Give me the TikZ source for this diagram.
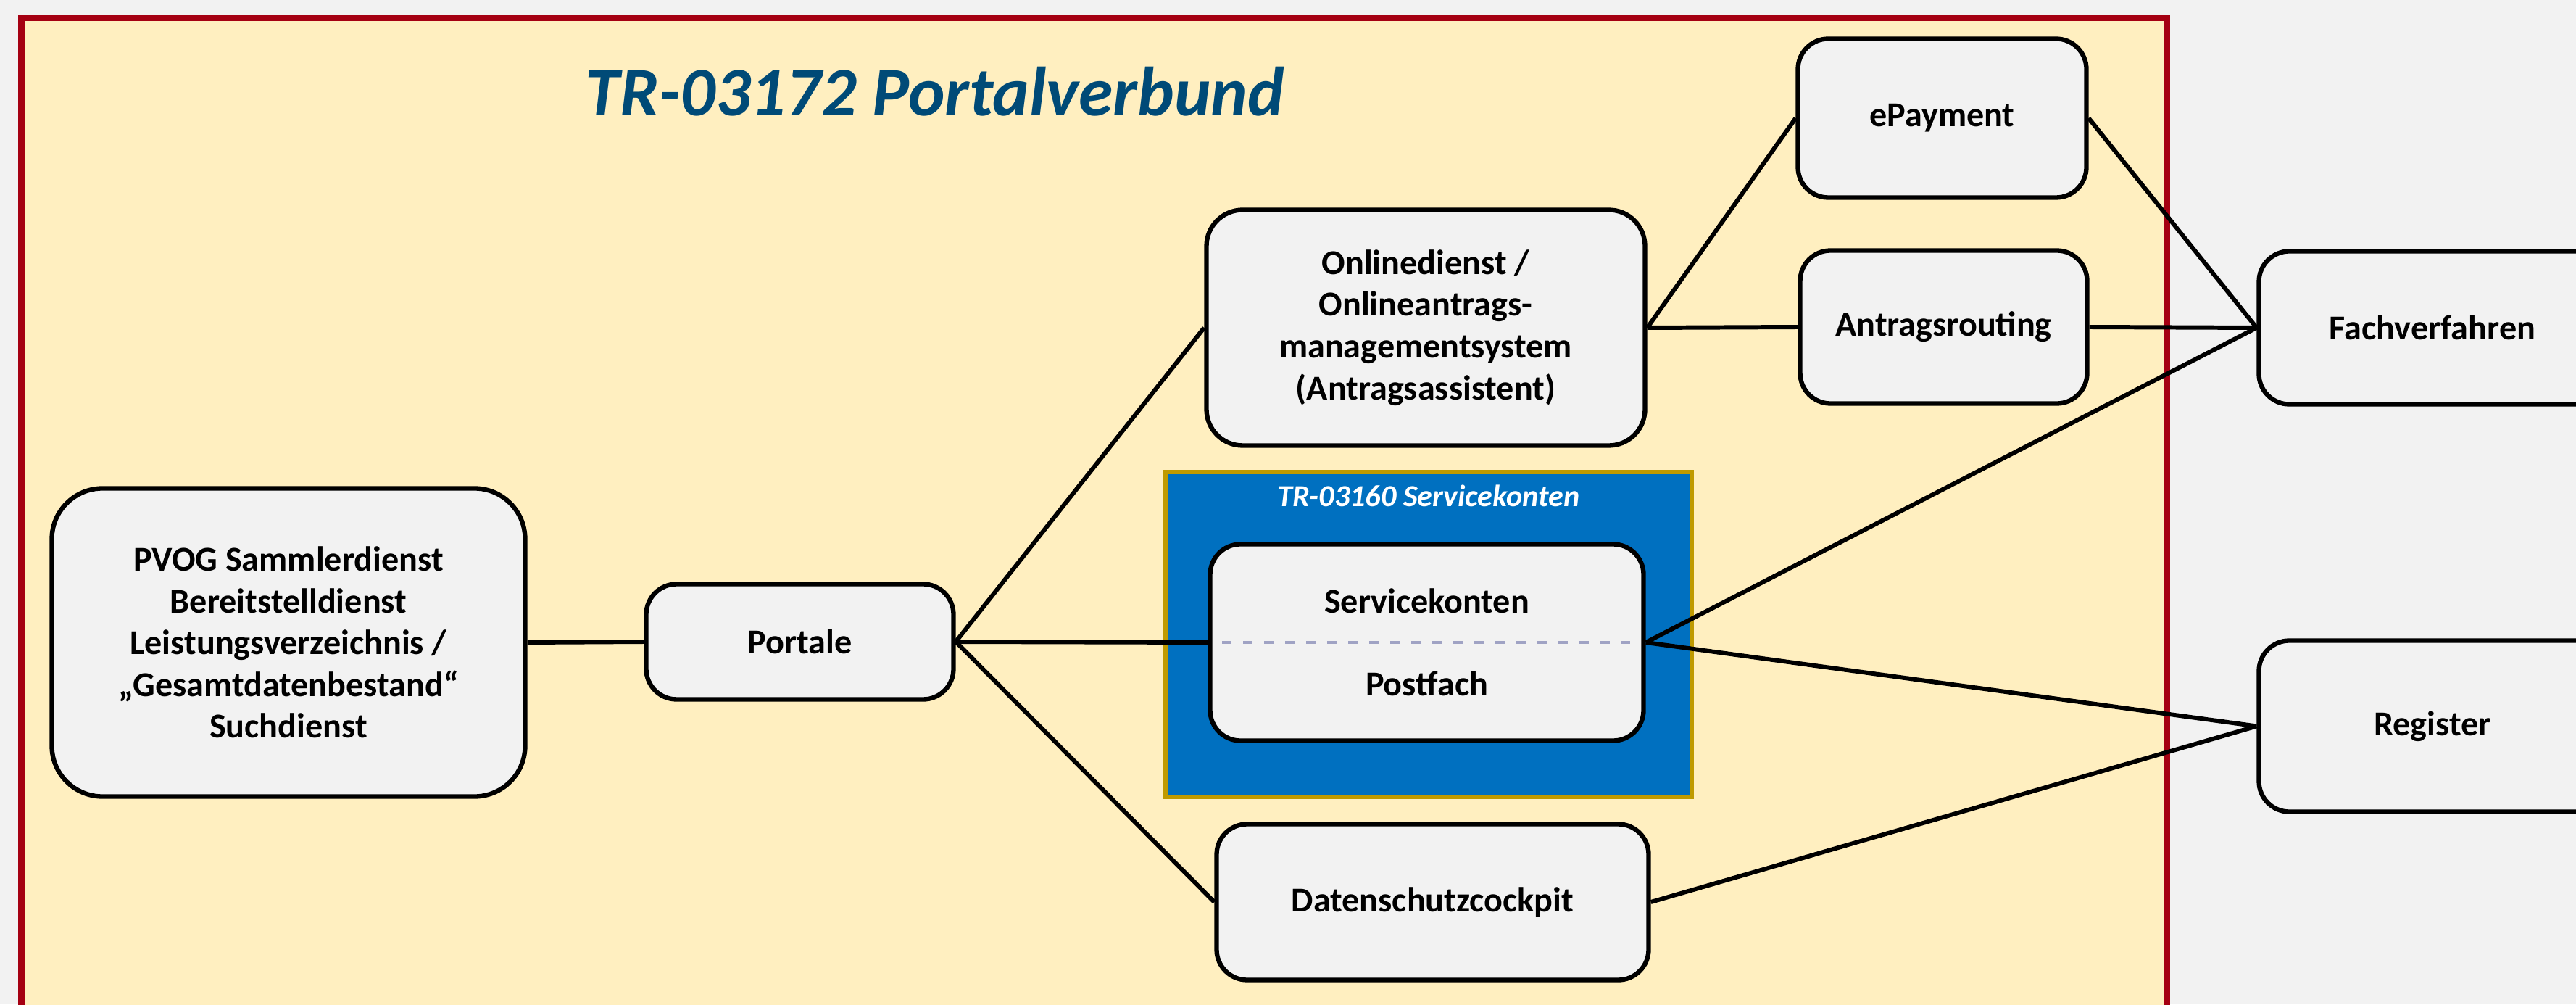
\documentclass[tikz,border=0pt]{standalone}
\usepackage{fontspec}
\setmainfont{Carlito}
\usepackage{tikz}
\usetikzlibrary{positioning}
\definecolor{bggrey}{HTML}{F2F2F2}
\definecolor{pvyellow}{HTML}{FFEFC0}
\definecolor{pvred}{HTML}{A50012}
\definecolor{pvblue}{HTML}{004A77}
\definecolor{skblue}{HTML}{0070C0}
\definecolor{skgold}{HTML}{BF9A00}
\definecolor{dashgrey}{HTML}{A0A3C4}
\tikzset{
  box/.style={draw=black, fill=bggrey, line width=1.8pt, rounded corners=0.42cm,
    align=center, inner sep=0pt, font=\fontsize{13.7}{16.4}\selectfont\bfseries},
  boxtext/.style={inner sep=0pt, anchor=base, font=\fontsize{13.7}{16.4}\selectfont\bfseries},
  link/.style={line width=1.7pt}
}

\begin{document}
\begin{tikzpicture}
            \clip (0,0) rectangle (35.54,13.85);
            \fill[bggrey] (0,0) rectangle (35.54,13.85);
            \draw[pvred, fill=pvyellow, line width=0.085cm] (0.295,-1) rectangle (29.895,13.6);
            \node[text=pvblue, anchor=base, font=\fontsize{27.3}{30}\selectfont\bfseries\itshape] (title) at (12.9,12.25) {TR-03172 Portalverbund};

            \node[draw=skgold, fill=skblue, line width=0.065cm, minimum width=7.26cm, minimum height=4.48cm] (skframe) at (19.71,5.10) {};
            \node[text=white, anchor=base, inner sep=0pt, font=\fontsize{12}{14}\selectfont\bfseries\itshape] (sktitle) at (19.71,6.86) {TR-03160 Servicekonten};

            \node[box, rounded corners=0.7cm, minimum width=6.53cm, minimum height=4.25cm] (pvog) at (3.98,4.99) {PVOG Sammlerdienst\\Bereitstelldienst\\Leistungsverzeichnis /\\„Gesamtdatenbestand“\\Suchdienst};
            \node[box, minimum width=4.24cm, minimum height=1.59cm] (portale) at (11.035,5.00) {Portale};
            \node[box, rounded corners=0.5cm, minimum width=6.05cm, minimum height=3.25cm] (online) at (19.67,9.33) {Onlinedienst /\\Onlineantrags-\\managementsystem\\(Antragsassistent)};
            \node[box, minimum width=3.98cm, minimum height=2.19cm] (epay) at (26.795,12.22) {ePayment};
            \node[box, minimum width=3.96cm, minimum height=2.11cm] (antrag) at (26.815,9.34) {Antragsrouting};
            \node[box, minimum width=5.98cm, minimum height=2.71cm] (sk) at (19.685,4.99) {};
            \node[boxtext] (sktext) at (19.685,5.40) {Servicekonten};
            \node[boxtext] (pftext) at (19.685,4.26) {Postfach};
            \draw[dashgrey, line width=0.04cm, dash pattern=on 0.13cm off 0.16cm] ([xshift=0.2cm]sk.west) -- ([xshift=-0.22cm]sk.east);
            \node[box, minimum width=5.96cm, minimum height=2.15cm] (dsc) at (19.765,1.41) {Datenschutzcockpit};
            \node[box, minimum width=4.79cm, minimum height=2.11cm] (fach) at (33.56,9.33) {Fachverfahren};
            \node[box, minimum width=4.79cm, minimum height=2.36cm] (reg) at (33.56,3.835) {Register};

            \draw[link] (pvog.east) -- (portale.west);
            \draw[link] (portale.east) -- (online.west);
            \draw[link] (portale.east) -- (sk.west);
            \draw[link] (portale.east) -- (dsc.west);
            \draw[link] (online.east) -- (epay.west);
            \draw[link] (online.east) -- (antrag.west);
            \draw[link] (epay.east) -- (fach.west);
            \draw[link] (antrag.east) -- (fach.west);
            \draw[link] (sk.east) -- (fach.west);
            \draw[link] (sk.east) -- (reg.west);
            \draw[link] (dsc.east) -- (reg.west);
        \end{tikzpicture}
\end{document}
